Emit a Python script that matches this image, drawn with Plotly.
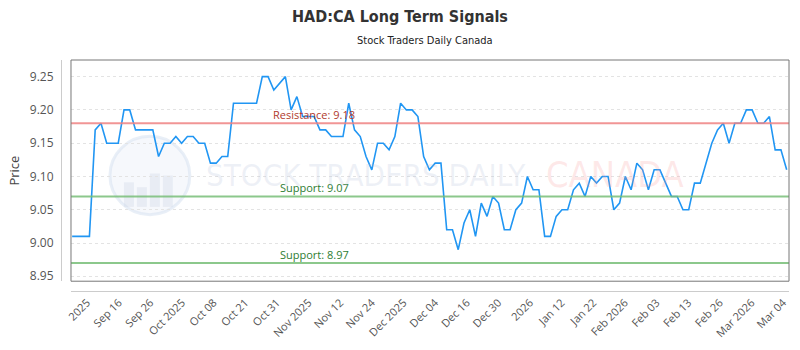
import plotly.graph_objects as go

# ---- data ----
prices = [
    9.01, 9.01, 9.01, 9.01, 9.17, 9.18, 9.15, 9.15, 9.15, 9.20,
    9.20, 9.17, 9.17, 9.17, 9.17, 9.13, 9.15, 9.15, 9.16, 9.15,
    9.16, 9.16, 9.15, 9.15, 9.12, 9.12, 9.13, 9.13, 9.21, 9.21,
    9.21, 9.21, 9.21, 9.25, 9.25, 9.23, 9.24, 9.25, 9.20, 9.22,
    9.19, 9.19, 9.19, 9.17, 9.17, 9.16, 9.16, 9.16, 9.21, 9.17,
    9.16, 9.13, 9.11, 9.15, 9.15, 9.14, 9.16, 9.21, 9.20, 9.20,
    9.19, 9.13, 9.11, 9.12, 9.12, 9.02, 9.02, 8.99, 9.03, 9.05,
    9.01, 9.06, 9.04, 9.07, 9.06, 9.02, 9.02, 9.05, 9.06, 9.10,
    9.08, 9.08, 9.01, 9.01, 9.04, 9.05, 9.05, 9.08, 9.09, 9.07,
    9.10, 9.09, 9.10, 9.10, 9.05, 9.06, 9.10, 9.08, 9.12, 9.11,
    9.08, 9.11, 9.11, 9.09, 9.07, 9.07, 9.05, 9.05, 9.09, 9.09,
    9.12, 9.15, 9.17, 9.18, 9.15, 9.18, 9.18, 9.20, 9.20, 9.18,
    9.18, 9.19, 9.14, 9.14, 9.11,
]
x_index = list(range(len(prices)))

tick_labels = ["2025", "Sep 16", "Sep 26", "Oct 2025", "Oct 08", "Oct 21", "Oct 31",
               "Nov 2025", "Nov 12", "Nov 24", "Dec 2025", "Dec 04", "Dec 16", "Dec 30",
               "2026", "Jan 12", "Jan 22", "Feb 2026", "Feb 03", "Feb 13", "Feb 26",
               "Mar 2026", "Mar 04"]
tick_positions = [2.6 + 5.49 * k for k in range(len(tick_labels))]

resistance = 9.18
supports = [9.07, 8.97]

# ---- figure ----
W, H = 800, 350
ml, mr, mt, mb = 61, 10, 60, 54
pw, ph = W - ml - mr, H - mt - mb
off = 10
COND = "DejaVu Sans Condensed, Roboto, sans-serif"


def px_x(p):
    return (p - ml) / pw


def px_y(p):
    return (H - mb - p) / ph


fig = go.Figure()
fig.add_trace(go.Scatter(
    x=x_index, y=prices, mode="lines",
    line=dict(color="#2196F3", width=1.6),
    hoverinfo="skip", showlegend=False,
))

shapes = []
# watermark logo
shapes.append(dict(type="circle", xref="paper", yref="paper", layer="below",
                   x0=px_x(110), x1=px_x(190), y0=px_y(218), y1=px_y(138),
                   fillcolor="rgba(225,232,245,0.30)",
                   line=dict(color="rgba(215,225,240,0.55)", width=3)))
for bx0, bx1, btop in [(124, 134, 185), (137, 147, 190), (150, 160, 176), (163, 173, 178)]:
    shapes.append(dict(type="rect", xref="paper", yref="paper", layer="below",
                       x0=px_x(bx0), x1=px_x(bx1), y0=px_y(210), y1=px_y(btop),
                       fillcolor="rgba(200,210,225,0.30)", line=dict(width=0)))

# level lines
shapes.append(dict(type="line", xref="x domain", yref="y", x0=0, x1=1, y0=resistance, y1=resistance,
                   line=dict(color="rgba(238,130,130,0.85)", width=2)))
for s in supports:
    shapes.append(dict(type="line", xref="x domain", yref="y", x0=0, x1=1, y0=s, y1=s,
                       line=dict(color="rgba(120,190,120,0.85)", width=2)))
# plot frame
shapes.append(dict(type="rect", xref="x domain", yref="y domain", x0=0, x1=1, y0=0, y1=1,
                   line=dict(color="#777777", width=1), layer="above"))

ann = []
ann.append(dict(x=42, y=resistance, xref="x", yref="y", text=f"Resistance: {resistance:.2f}",
                showarrow=False, yanchor="bottom", yshift=-1,
                font=dict(family="Open Sans", size=11, color="#b03a2e")))
for s in supports:
    ann.append(dict(x=42, y=s, xref="x", yref="y", text=f"Support: {s:.2f}",
                    showarrow=False, yanchor="bottom", yshift=-1,
                    font=dict(family="Open Sans", size=11, color="#2e7d32")))

# subtitle
ann.append(dict(x=0.5, y=px_y(40), xref="paper", yref="paper",
                text="Stock Traders Daily Canada", showarrow=False,
                xanchor="center", yanchor="middle",
                font=dict(family=COND, size=11, color="#222222")))

# watermark text
ann.append(dict(x=px_x(204), y=px_y(177), xref="paper", yref="paper",
                text="STOCK TRADERS DAILY", showarrow=False, xanchor="left", yanchor="middle",
                font=dict(family=COND, size=31, color="rgba(175,190,215,0.22)")))
ann.append(dict(x=px_x(545), y=px_y(177), xref="paper", yref="paper",
                text="CANADA", showarrow=False, xanchor="left", yanchor="middle",
                font=dict(family=COND, size=36, color="rgba(250,150,150,0.22)")))

fig.update_layout(
    width=W, height=H,
    margin=dict(l=ml, r=mr, t=mt, b=mb),
    paper_bgcolor="white", plot_bgcolor="white",
    title=dict(text="<b>HAD:CA Long Term Signals</b>", x=0.5, xanchor="center",
               y=1 - 16 / H, yanchor="middle",
               font=dict(family=COND, size=16, color="#333333")),
    annotations=ann,
    shapes=shapes,
    xaxis=dict(
        domain=[off / pw, 1], anchor="free", position=0,
        range=[-0.2, 124.4],
        tickmode="array", tickvals=tick_positions, ticktext=tick_labels,
        tickangle=-45, showgrid=False, zeroline=False,
        showline=True, linecolor="#cccccc", linewidth=1, ticks="",
        tickfont=dict(family="Open Sans", size=11, color="#555555"),
    ),
    yaxis=dict(
        domain=[off / ph, 1], anchor="free", position=0,
        range=[8.9426, 9.275], dtick=0.05, tick0=8.95, tickformat=".2f",
        showgrid=True, gridcolor="#e3e3e3", griddash="dot", gridwidth=1,
        zeroline=False, showline=True, linecolor="#cccccc", linewidth=1, ticks="",
        ticklabelstandoff=5,
        tickfont=dict(family="Open Sans", size=12, color="#555555"),
        title=dict(text="Price", font=dict(family="Open Sans", size=13, color="#444444"), standoff=6),
    ),
)

fig.write_html("out.html")
